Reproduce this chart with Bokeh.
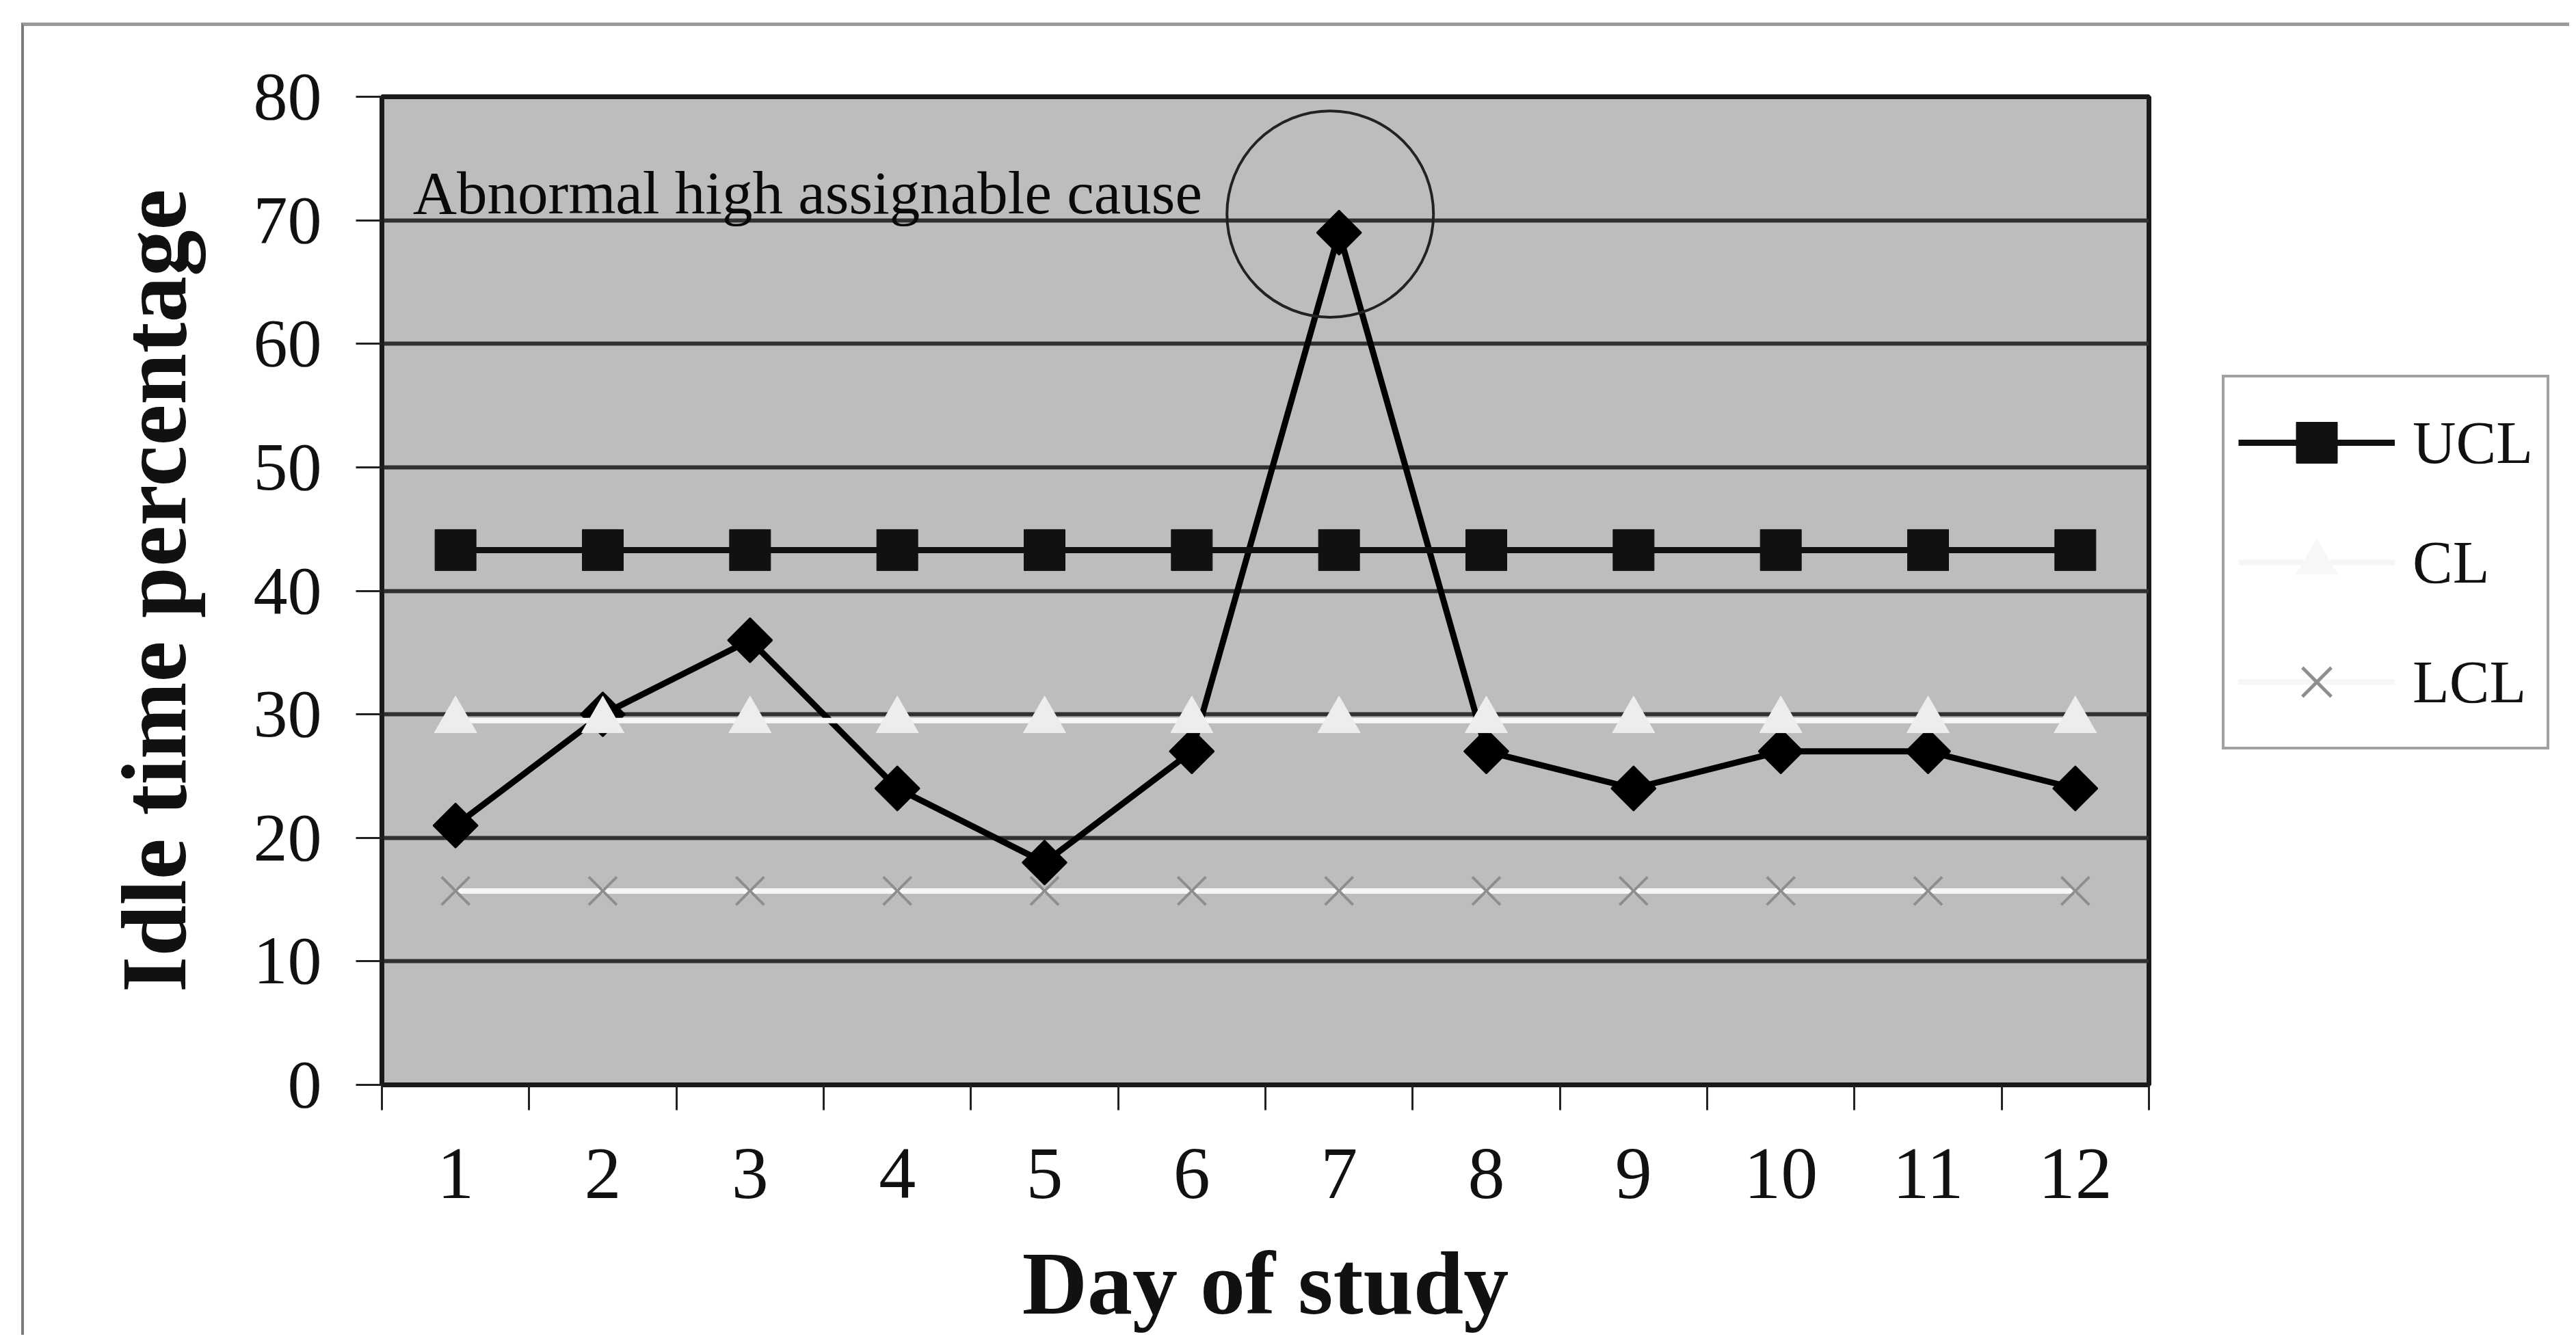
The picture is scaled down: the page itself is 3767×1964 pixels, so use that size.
import math

from bokeh.embed import file_html
from bokeh.layouts import row
from bokeh.models import FixedTicker, Label, Legend, LegendItem, Range1d
from bokeh.plotting import figure
from bokeh.resources import INLINE

# Daily idle-time percentages with their p-chart control limits
days = [1, 2, 3, 4, 5, 6, 7, 8, 9, 10, 11, 12]
day_labels = ["1", "2", "3", "4", "5", "6", "7", "8", "9", "10", "11", "12"]
idle_pct = [21, 30, 36, 24, 18, 27, 69, 27, 24, 27, 27, 24]
ucl = [43.3, 43.3, 43.3, 43.3, 43.3, 43.3, 43.3, 43.3, 43.3, 43.3, 43.3, 43.3]
cl = [29.5, 29.5, 29.5, 29.5, 29.5, 29.5, 29.5, 29.5, 29.5, 29.5, 29.5, 29.5]
lcl = [15.7, 15.7, 15.7, 15.7, 15.7, 15.7, 15.7, 15.7, 15.7, 15.7, 15.7, 15.7]
y_ticks = [0, 10, 20, 30, 40, 50, 60, 70, 80]
day_edges = [0.5, 1.5, 2.5, 3.5, 4.5, 5.5, 6.5, 7.5, 8.5, 9.5, 10.5, 11.5, 12.5]

# the out-of-control point that gets circled and annotated
flag_day, flag_level = 6.94, 70.5
note_text = "Abnormal high assignable cause"

SERIF = "Liberation Serif"

# the chart sits inside a thin grey frame (top and left edges visible)
FRAME_X, FRAME_Y = 35, 38
CHART_H = 1964 - FRAME_Y - 12
KEY_W = 510

p = figure(
    width=3247 - FRAME_X, height=CHART_H,
    x_range=Range1d(0.5, 12.5), y_range=Range1d(0, 80),
    output_backend="svg", toolbar_location=None,
    min_border_left=558 - FRAME_X, min_border_right=105,
    min_border_top=141 - FRAME_Y, min_border_bottom=CHART_H - (1592 - FRAME_Y),
)
p.background_fill_color = "#bdbdbd"
p.border_fill_color = "white"
p.outline_line_color = "#1a1a1a"
p.outline_line_width = 7

p.xgrid.visible = False
p.ygrid.ticker = FixedTicker(ticks=y_ticks)
p.ygrid.grid_line_color = "#303030"
p.ygrid.grid_line_width = 6

# x axis: labels at day centres, tick marks on the day boundaries
xa = p.xaxis[0]
xa.ticker = FixedTicker(ticks=days, minor_ticks=day_edges)
xa.major_label_overrides = dict(zip(days, day_labels))
xa.major_tick_out = 0
xa.major_tick_in = 0
xa.minor_tick_out = 37
xa.minor_tick_in = 0
xa.minor_tick_line_color = "#222222"
xa.minor_tick_line_width = 3
xa.axis_line_color = "#1a1a1a"
xa.axis_line_width = 6
xa.major_label_standoff = 57
xa.major_label_text_font = SERIF
xa.major_label_text_font_size = "108px"
xa.major_label_text_color = "#111111"
xa.axis_label = "Day of study"
xa.axis_label_text_font = SERIF
xa.axis_label_text_font_style = "bold"
xa.axis_label_text_font_size = "132px"
xa.axis_label_text_color = "#111111"
xa.axis_label_standoff = 48

ya = p.yaxis[0]
ya.ticker = FixedTicker(ticks=y_ticks, minor_ticks=[])
ya.major_tick_out = 38
ya.major_tick_in = 0
ya.major_tick_line_color = "#222222"
ya.major_tick_line_width = 3
ya.axis_line_color = "#1a1a1a"
ya.axis_line_width = 6
ya.major_label_standoff = 50
ya.major_label_text_font = SERIF
ya.major_label_text_font_size = "100px"
ya.major_label_text_color = "#111111"
ya.axis_label = "Idle time percentage"
ya.axis_label_text_font = SERIF
ya.axis_label_text_font_style = "bold"
ya.axis_label_text_font_size = "135px"
ya.axis_label_text_color = "#111111"
ya.axis_label_standoff = 68

# observed series
p.line(days, idle_pct, line_color="black", line_width=9)
p.scatter(days, idle_pct, marker="square", angle=math.pi / 4, size=46,
          fill_color="black", line_color="black", line_width=2)

# control limits
ucl_style = dict(line_color="#111111", line_width=9)
ucl_mark = dict(marker="square", size=60, fill_color="#111111", line_color="#111111")
cl_style = dict(line_color="#f6f6f6", line_width=8)
cl_mark = dict(marker="triangle", size=62, fill_color="#ededed", line_color="#ededed")
lcl_style = dict(line_color="#f6f6f6", line_width=8)
lcl_mark = dict(marker="x", size=58, line_color="#8e8e8e", line_width=4)

p.line(days, ucl, **ucl_style)
p.scatter(days, ucl, **ucl_mark)
p.line(days, cl, **cl_style)
p.scatter(days, cl, **cl_mark)
p.line(days, lcl, **lcl_style)
p.scatter(days, lcl, **lcl_mark)

# highlight ring and note
p.scatter([flag_day], [flag_level], marker="circle", size=302,
          fill_color=None, line_color="#222222", line_width=4)
p.add_layout(Label(x=0.71, y=72.2, text=note_text, text_font=SERIF,
                   text_font_size="89px", text_color="#0a0a0a",
                   text_baseline="alphabetic"))

# key panel beside the chart: the same limit series, kept out of its view,
# so only the legend shows
key = figure(
    width=KEY_W, height=CHART_H,
    x_range=Range1d(100, 101), y_range=Range1d(0, 80),
    x_axis_type=None, y_axis_type=None,
    output_backend="svg", toolbar_location=None, min_border=0,
)
key.outline_line_color = None
key.background_fill_color = "white"
key.border_fill_color = "white"
key.xgrid.visible = False
key.ygrid.visible = False

k_ucl_line = key.line(days, ucl, **ucl_style)
k_ucl_pts = key.scatter(days, ucl, **ucl_mark)
k_cl_line = key.line(days, cl, **cl_style)
k_cl_pts = key.scatter(days, cl, marker="triangle", size=62,
                       fill_color="#f7f7f7", line_color="#f7f7f7")
k_lcl_line = key.line(days, lcl, **lcl_style)
k_lcl_pts = key.scatter(days, lcl, marker="x", size=62,
                        line_color="#8e8e8e", line_width=5)

legend = Legend(
    items=[
        LegendItem(label="UCL", renderers=[k_ucl_line, k_ucl_pts]),
        LegendItem(label="CL", renderers=[k_cl_line, k_cl_pts]),
        LegendItem(label="LCL", renderers=[k_lcl_line, k_lcl_pts]),
    ],
    location=(2, 490),
    glyph_width=229, glyph_height=150,
    label_standoff=26, spacing=25, padding=20, margin=0,
    label_text_font=SERIF, label_text_font_size="88px",
    label_text_color="#111111", label_text_baseline="middle",
    border_line_color="#444444", border_line_width=4,
    background_fill_color="white", background_fill_alpha=1.0,
)
key.add_layout(legend)

page = row(p, key, spacing=0)
page.styles = {
    "margin-left": "31px", "margin-top": "33px",
    "border-left": "4px solid #7a7a7a", "border-top": "5px solid #9a9a9a",
}

open("out.html", "w").write(file_html(page, INLINE))
